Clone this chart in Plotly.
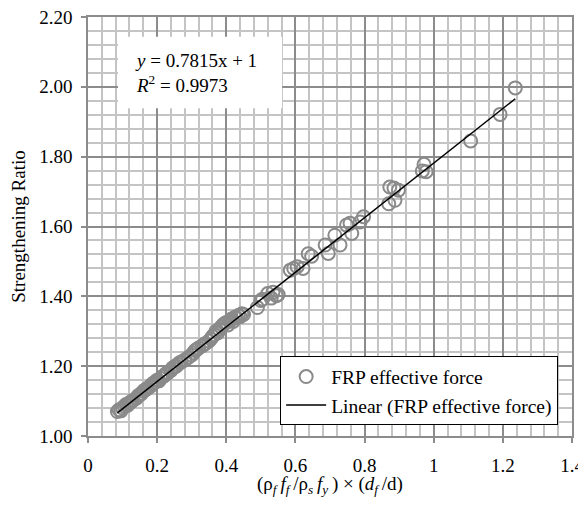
import plotly.graph_objects as go

# Data
x_vals = [0.085, 0.090, 0.095, 0.100, 0.105, 0.110, 0.115, 0.120, 0.125, 0.130,
          0.140, 0.145, 0.150, 0.155, 0.160, 0.165, 0.170, 0.180, 0.185, 0.190,
          0.195, 0.200, 0.205, 0.210, 0.215, 0.220, 0.225, 0.230, 0.240, 0.245,
          0.250, 0.255, 0.260, 0.265, 0.270, 0.280, 0.290, 0.300, 0.305, 0.310,
          0.315, 0.320, 0.330, 0.335, 0.340, 0.350, 0.355, 0.360, 0.365, 0.370,
          0.375, 0.380, 0.385, 0.390, 0.395, 0.400, 0.405, 0.410, 0.415, 0.420,
          0.425, 0.430, 0.435, 0.440, 0.445, 0.450, 0.490, 0.500, 0.505, 0.520,
          0.530, 0.535, 0.545, 0.550, 0.585, 0.595, 0.605, 0.622, 0.637, 0.647,
          0.686, 0.695, 0.714, 0.729, 0.748, 0.758, 0.763, 0.787, 0.797, 0.873,
          0.885, 0.888, 0.898, 0.870, 0.967, 0.972, 0.978, 1.107, 1.192, 1.236]
y_vals = [1.070, 1.075, 1.072, 1.080, 1.085, 1.090, 1.088, 1.095, 1.098, 1.102,
          1.108, 1.115, 1.118, 1.122, 1.128, 1.132, 1.135, 1.142, 1.148, 1.152,
          1.155, 1.160, 1.158, 1.165, 1.170, 1.172, 1.178, 1.180, 1.188, 1.195,
          1.198, 1.200, 1.205, 1.210, 1.212, 1.218, 1.225, 1.232, 1.238, 1.245,
          1.248, 1.252, 1.258, 1.262, 1.265, 1.272, 1.278, 1.285, 1.290, 1.300,
          1.295, 1.305, 1.312, 1.318, 1.322, 1.325, 1.318, 1.330, 1.335, 1.328,
          1.340, 1.338, 1.345, 1.342, 1.350, 1.348, 1.368, 1.388, 1.392, 1.408,
          1.395, 1.412, 1.402, 1.405, 1.475, 1.480, 1.485, 1.480, 1.522, 1.515,
          1.547, 1.523, 1.575, 1.547, 1.604, 1.609, 1.580, 1.613, 1.628, 1.713,
          1.710, 1.675, 1.704, 1.665, 1.759, 1.778, 1.757, 1.845, 1.921, 1.997]

slope = 0.7815
intercept = 1.0
r_squared = 0.9973

x_ticks = [0, 0.2, 0.4, 0.6, 0.8, 1.0, 1.2, 1.4]
x_tick_labels = ["0", "0.2", "0.4", "0.6", "0.8", "1", "1.2", "1.4"]
y_ticks = [1.0, 1.2, 1.4, 1.6, 1.8, 2.0, 2.2]
y_tick_labels = ["1.00", "1.20", "1.40", "1.60", "1.80", "2.00", "2.20"]

FONT = "Liberation Serif, Times New Roman, serif"

x_line = [min(x_vals), max(x_vals)]
y_line = [slope * v + intercept for v in x_line]

fig = go.Figure()
fig.add_trace(go.Scatter(
    x=x_vals, y=y_vals, mode="markers", name="FRP effective force",
    marker=dict(symbol="circle-open", size=13, color="#8a8a8a",
                line=dict(width=2, color="#8a8a8a")),
))
fig.add_trace(go.Scatter(
    x=x_line, y=y_line, mode="lines", name="Linear (FRP effective force)",
    line=dict(color="black", width=1.5),
))

axis_common = dict(
    showline=True, linecolor="#8c8c8c", linewidth=1.5, mirror=True,
    showgrid=True, gridcolor="#8c8c8c", gridwidth=1.5,
    ticks="outside", ticklen=5, tickcolor="#8c8c8c", tickwidth=1.5,
    zeroline=False, ticklabeloverflow="allow", automargin=False,
    tickfont=dict(family=FONT, size=19, color="black"),
)

hs = "\u2009"
x_title = (f"(ρ<sub><i>f</i></sub>{hs}<i>f</i><sub><i>f</i></sub>{hs}/ρ<sub><i>s</i></sub>{hs}"
           f"<i>f</i><sub><i>y</i></sub>{hs}) × (<i>d</i><sub><i>f</i></sub>{hs}/d)")

fig.update_xaxes(
    range=[0, 1.4], tickvals=x_ticks, ticktext=x_tick_labels,
    minor=dict(dtick=0.04, tick0=0, showgrid=True, gridcolor="#c4c4c4", gridwidth=1.5, ticks=""),
    ticklabelstandoff=6,
    title=dict(text=x_title, font=dict(family=FONT, size=19, color="black"), standoff=6),
    **axis_common,
)
fig.update_yaxes(
    range=[1.0, 2.2], tickvals=y_ticks, ticktext=y_tick_labels,
    minor=dict(dtick=0.04, tick0=1.0, showgrid=True, gridcolor="#c4c4c4", gridwidth=1.5, ticks=""),
    ticklabelstandoff=5,
    title=dict(text="Strengthening Ratio", font=dict(family=FONT, size=19, color="black"), standoff=10),
    **axis_common,
)

# white box behind the regression equation
fig.add_shape(type="rect", xref="paper", yref="paper",
              x0=0.062, x1=0.401, y0=0.782, y1=0.953,
              fillcolor="white", line=dict(width=0), layer="above")
fig.add_annotation(
    xref="paper", yref="paper", x=0.093, y=0.867, xanchor="left", yanchor="middle",
    text=f"<i>y</i> = {slope}x + {intercept:g}<br><i>R</i><sup>2</sup> = {r_squared}",
    showarrow=False, align="left",
    font=dict(family=FONT, size=19, color="black"),
)

fig.update_layout(
    width=578, height=489,
    margin=dict(l=80, r=14, t=9, b=61),
    plot_bgcolor="white", paper_bgcolor="white",
    showlegend=True,
    legend=dict(x=0.397, y=0.19, xanchor="left", yanchor="top",
                bgcolor="white", bordercolor="black", borderwidth=1,
                font=dict(family=FONT, size=19.5, color="black"),
                tracegroupgap=0, itemwidth=40),
)

fig.write_html("out.html")
